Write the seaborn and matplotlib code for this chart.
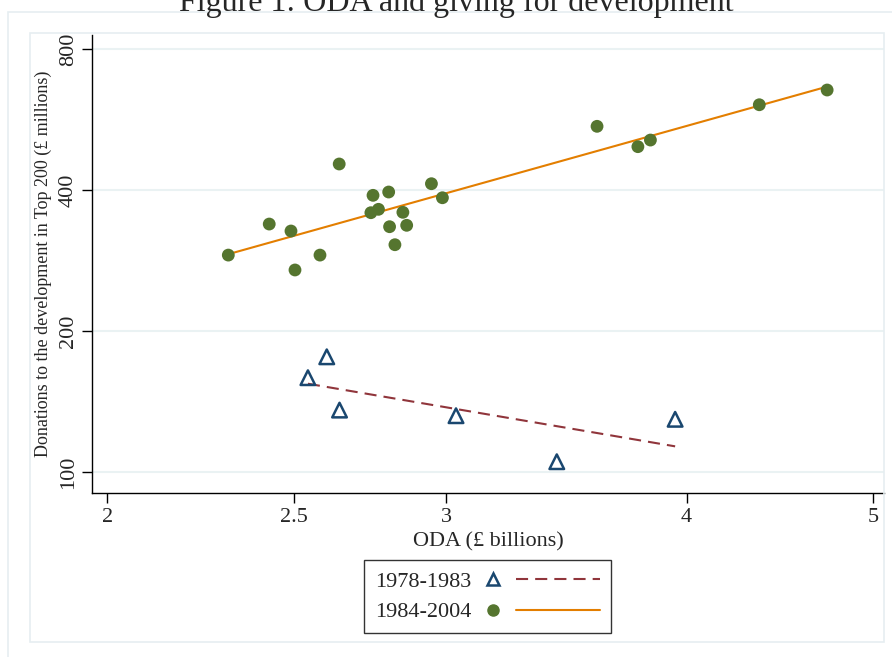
import numpy as np
import pandas as pd
import matplotlib
matplotlib.use("Agg")
import matplotlib.pyplot as plt
import seaborn as sns
from matplotlib.lines import Line2D
from matplotlib.legend_handler import HandlerBase
from matplotlib.patches import Rectangle
from matplotlib.ticker import FixedLocator, FixedFormatter, NullLocator

#Data (ODA in £ billions, donations in £ millions)
oda_early = [2.601, 2.543, 2.641, 3.036, 3.425, 3.946]
don_early = [176.2, 159.0, 135.6, 131.9, 105.2, 129.6]

oda_late = [2.312, 2.428, 2.492, 2.504, 2.580, 2.640, 2.749, 2.801, 2.742, 2.767, 2.804,
            2.822, 2.849, 2.862, 2.948, 2.987, 3.594, 3.774, 3.831, 4.364, 4.733]
don_late = [290.5, 338.4, 327.0, 270.0, 290.5, 454.6, 389.7, 396.1, 357.8, 363.8, 334.0,
            305.7, 358.5, 336.3, 412.6, 385.1, 547.1, 495.0, 511.4, 608.3, 654.0]

periods = ["1978-1983", "1984-2004"]
x_ticks = [2, 2.5, 3, 4, 5]
y_ticks = [100, 200, 400, 800]

df = pd.DataFrame({
    "oda": oda_early + oda_late,
    "donations": don_early + don_late,
    "period": [periods[0]] * len(oda_early) + [periods[1]] * len(oda_late),
})

#Stata s2color colours
navy = "#1a476f"
maroon = "#90353b"
green = "#55752f"
orange = "#e37e00"
frame_col = "#e6eef1"

sns.set_style("ticks")
plt.rcParams["font.family"] = ["Liberation Serif", "DejaVu Serif"]

fig = plt.figure(figsize=(8.92, 6.57), dpi=100)
ax = fig.add_axes([0.1031, 0.2496, 0.8879, 0.6971])

#light frames around the graph region
fig.patches.append(Rectangle((8 / 892, -0.1), 1.1, 1 - 12 / 657 + 0.1, transform=fig.transFigure,
                             fill=False, edgecolor=frame_col, linewidth=1.2, zorder=0))
fig.patches.append(Rectangle((30 / 892, 1 - 642 / 657), (884 - 30) / 892, (642 - 33) / 657,
                             transform=fig.transFigure, fill=False, edgecolor=frame_col,
                             linewidth=1.2, zorder=0))

ax.set_xscale("log")
ax.set_yscale("log")

#fitted lines in log-log space
def loglog_fit(x, y):
    x = np.asarray(x)
    b, a = np.polyfit(np.log(x), np.log(np.asarray(y)), 1)
    xs = np.array([x.min(), x.max()])
    return xs, np.exp(a + b * np.log(xs))

xe, ye = loglog_fit(oda_early, don_early)
xl, yl = loglog_fit(oda_late, don_late)

sns.lineplot(x=xe, y=ye, ax=ax, color=maroon, linewidth=1.5, linestyle=(0, (5.8, 3.4)), zorder=2)
sns.lineplot(x=xl, y=yl, ax=ax, color=orange, linewidth=1.5, zorder=2)

sns.scatterplot(data=df[df["period"] == periods[0]], x="oda", y="donations", ax=ax,
                marker="^", s=110, facecolor="none", edgecolor=navy, linewidth=1.8, zorder=3)
sns.scatterplot(data=df[df["period"] == periods[1]], x="oda", y="donations", ax=ax,
                marker="o", s=85, color=green, edgecolor="none", zorder=3)

ax.set_xlim(1.964, 5.066)
ax.set_ylim(90.2, 857)
ax.xaxis.set_major_locator(FixedLocator(x_ticks))
ax.xaxis.set_major_formatter(FixedFormatter([f"{t:g}" for t in x_ticks]))
ax.xaxis.set_minor_locator(NullLocator())
ax.yaxis.set_major_locator(FixedLocator(y_ticks))
ax.yaxis.set_major_formatter(FixedFormatter([str(t) for t in y_ticks]))
ax.yaxis.set_minor_locator(NullLocator())

ax.grid(axis="y", color="#eaf2f3", linewidth=1.5)
ax.set_axisbelow(True)
for side in ["top", "right"]:
    ax.spines[side].set_visible(False)
for side in ["left", "bottom"]:
    ax.spines[side].set_color("black")
    ax.spines[side].set_linewidth(1.0)

ax.tick_params(axis="both", direction="out", length=7, width=1, color="black", labelsize=16)
ax.tick_params(axis="y", pad=3)
plt.setp(ax.get_yticklabels(), rotation=90, va="center")

ax.set_xlabel("ODA (£ billions)", fontsize=16, labelpad=4)
ax.set_ylabel("Donations to the development in Top 200 (£ millions)", fontsize=13, labelpad=5)

fig.text(0.512, 1 - 11 / 657, "Figure 1: ODA and giving for development", fontsize=23,
         ha="center", va="baseline")

#legend: label, then marker, then line
class MarkerLineHandler(HandlerBase):
    def create_artists(self, legend, orig_handle, xdescent, ydescent, width, height, fontsize, trans):
        mk, ln = orig_handle
        yc = height / 2 - ydescent
        x0 = -xdescent
        m = Line2D([x0 + 6], [yc])
        m.update_from(mk)
        m.set_transform(trans)
        l = Line2D([x0 + 23, x0 + width], [yc, yc])
        l.update_from(ln)
        l.set_transform(trans)
        return [m, l]

h_early = (Line2D([], [], marker="^", linestyle="none", markerfacecolor="none",
                  markeredgecolor=navy, markersize=9, markeredgewidth=1.8),
           Line2D([], [], color=maroon, linewidth=1.5, linestyle=(0, (5.8, 3.4))))
h_late = (Line2D([], [], marker="o", linestyle="none", markerfacecolor=green,
                 markeredgecolor=green, markersize=8),
          Line2D([], [], color=orange, linewidth=1.5))

leg = fig.legend([h_early, h_late], periods, loc="upper center",
                 bbox_to_anchor=(0.5465, 1 - 549 / 657), fontsize=16, markerfirst=False,
                 handler_map={tuple: MarkerLineHandler()}, handlelength=5.2,
                 handletextpad=0.6, labelspacing=0.45, borderpad=0.5, fancybox=False,
                 frameon=True, edgecolor="black")
leg.get_frame().set_linewidth(1.0)

fig.savefig("out.png", dpi=100)
